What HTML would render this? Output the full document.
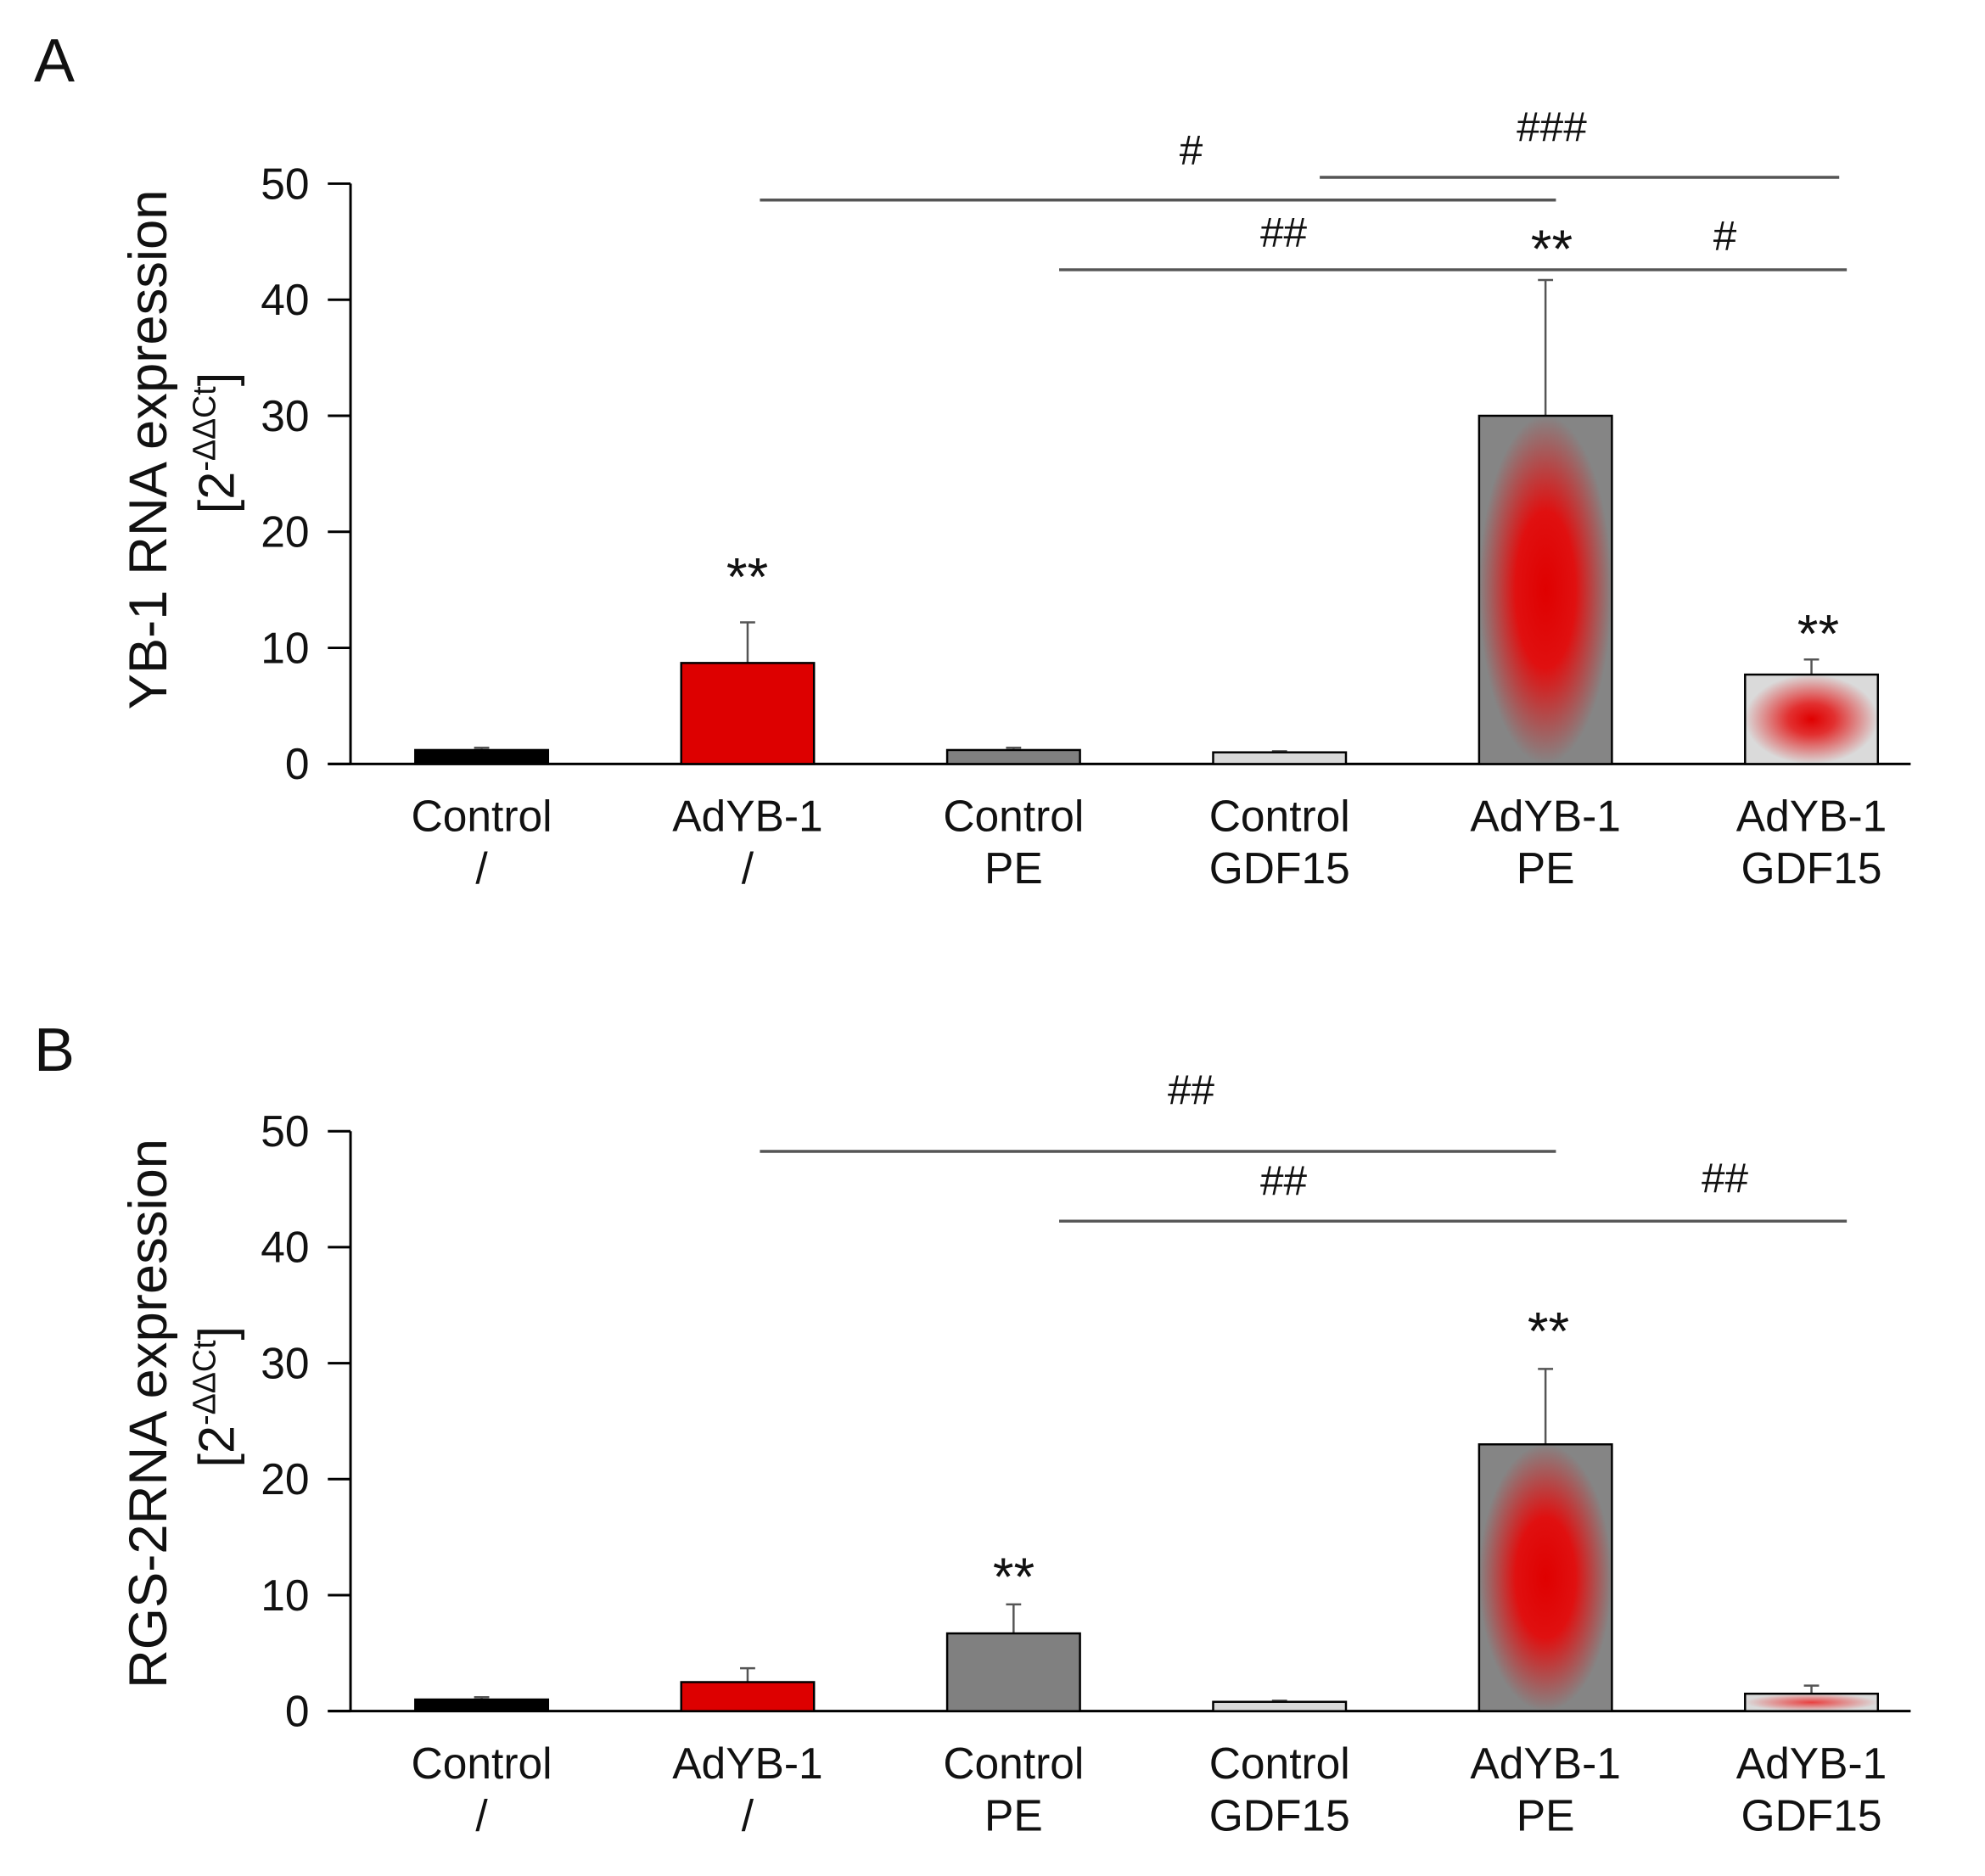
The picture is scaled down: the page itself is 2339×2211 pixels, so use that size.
<!DOCTYPE html>
<html><head><meta charset="utf-8"><style>
html,body{margin:0;padding:0;background:#fff}
svg{display:block}
text{font-family:"Liberation Sans",sans-serif;fill:#111}
.n{font-family:"Liberation Sans Narrow","Liberation Sans",sans-serif}
</style></head><body>
<svg id="fig" xmlns="http://www.w3.org/2000/svg" width="2339" height="2211" viewBox="0 0 2339 2211">
<defs>
<radialGradient id="gradGray" cx="50%" cy="50%" r="50%">
<stop offset="0" stop-color="#e00000"/><stop offset="0.45" stop-color="#e01010"/><stop offset="1" stop-color="#858585"/>
</radialGradient>
<radialGradient id="gradLight" cx="50%" cy="50%" r="50%">
<stop offset="0" stop-color="#e00000"/><stop offset="0.35" stop-color="#e23030"/><stop offset="1" stop-color="#dadada"/>
</radialGradient>
<radialGradient id="gradLightB" cx="50%" cy="50%" r="50%">
<stop offset="0" stop-color="#e84040"/><stop offset="1" stop-color="#dadada"/>
</radialGradient>
</defs>
<text x="40" y="96" font-size="72">A</text>
<text x="40" y="1262" font-size="72">B</text>
<g transform="scale(0.9905)">
<g id="pa"></g>
<g id="pb"></g>
</g>
</svg>
<script>
const categoriesTop = ["Control","AdYB-1","Control","Control","AdYB-1","AdYB-1"];
const categoriesBottom = ["/","/","PE","GDF15","PE","GDF15"];
const valuesA = [1.2, 8.7, 1.2, 1.0, 30, 7.7];
const errorsA = [1.4, 12.2, 1.4, 1.1, 41.7, 9.0];
const valuesB = [1.0, 2.5, 6.7, 0.8, 23, 1.5];
const errorsB = [1.2, 3.7, 9.2, 0.9, 29.5, 2.2];
const ticks = [0,10,20,30,40,50];
const fillsA = ["#000000","#dd0000","#808080","#d9d9d9","url(#gradGray)","url(#gradLight)"];
const fillsB = ["#000000","#dd0000","#808080","#d9d9d9","url(#gradGray)","url(#gradLightB)"];
const NS="http://www.w3.org/2000/svg";
function mk(parent,tag,attrs,txt){const e=document.createElementNS(NS,tag);for(const k in attrs)e.setAttribute(k,attrs[k]);if(txt!==undefined)e.textContent=txt;parent.appendChild(e);return e;}
function panel(gid,y0,y50,vals,errs,fills,title,tc,uc){
  const g=document.getElementById(gid);
  const X0=417,XE=2273,step=316.4,first=573,bw=158;
  const ys=v=>y0-(v/50)*(y0-y50);
  const xs=i=>first+i*step;
  let ax=mk(g,'line',{x1:X0,y1:y50,x2:X0,y2:y0,stroke:'#000','stroke-width':3});
  
  
  ax=mk(g,'line',{x1:X0-27,y1:y0,x2:XE,y2:y0,stroke:'#000','stroke-width':3});
  
  
  ticks.forEach(t=>{
    const tl=mk(g,'line',{x1:X0-27,y1:ys(t),x2:X0,y2:ys(t),stroke:'#000','stroke-width':3});
    
    
    const tx=mk(g,'text',{x:368,y:ys(t)+18,'font-size':52,'text-anchor':'end',class:'n'},String(t));
    
    
  });
  vals.forEach((v,i)=>{
    const cx=xs(i);
    const el=mk(g,'line',{x1:cx,y1:ys(errs[i]),x2:cx,y2:ys(v),stroke:'#555','stroke-width':2.5});
    
    
    const cap=mk(g,'line',{x1:cx-9,y1:ys(errs[i]),x2:cx+9,y2:ys(errs[i]),stroke:'#555','stroke-width':2.5});
    
    
    const r=mk(g,'rect',{x:cx-bw/2,y:ys(v),width:bw,height:y0-ys(v),fill:fills[i],stroke:'#000','stroke-width':2.5});
    
    
    const l1=mk(g,'text',{x:cx,y:y0+80,'font-size':52,'text-anchor':'middle',class:'n'},categoriesTop[i]);
    
    
    const l2=mk(g,'text',{x:cx,y:y0+142,'font-size':52,'text-anchor':'middle',class:'n'},categoriesBottom[i]);
    
    
  });
  const t=mk(g,'text',{transform:`translate(198,${tc}) rotate(-90)`,'font-size':64,'text-anchor':'middle'},title);
  
  
  const t2=mk(g,'text',{transform:`translate(278,${uc}) rotate(-90)`,'font-size':60,'text-anchor':'middle'});
  
  
  t2.innerHTML='[2<tspan font-size="38" dy="-22">-ΔΔCt</tspan><tspan dy="22">]</tspan>';
  return {ys,xs,g};
}
function sig(g,x1,x2,y,label,lx,ly){
  if(x2>x1){const l=mk(g,'line',{x1:x1,y1:y,x2:x2,y2:y,stroke:'#555','stroke-width':3.5});
  
  }
  if(label){const t=mk(g,'text',{x:lx,y:ly,'font-size':50,'text-anchor':'middle',class:'n'},label);
  
  }
}
function star(g,x,y){const t=mk(g,'text',{x:x,y:y,'font-size':64,'text-anchor':'middle'},'**');
  
  }
const A=panel('pa',909,218.5,valuesA,errorsA,fillsA,'YB-1 RNA expression',535,527);
sig(A.g,904,1851,238,'#',1417,196);
sig(A.g,1570,2188,211,'###',1846,168);
sig(A.g,1260,2197,321,'##',1527,294);
sig(A.g,0,0,0,'#',2052,298);
star(A.g,1846,318);star(A.g,889,708);star(A.g,2163,776);
const B=panel('pb',2036,1346,valuesB,errorsB,fillsB,'RGS-2RNA expression',1682,1662);
sig(B.g,904,1851,1370,'##',1417,1314);
sig(B.g,1260,2197,1453,'##',1527,1422);
sig(B.g,0,0,0,'##',2052,1419);
star(B.g,1842,1606);star(B.g,1206,1898);
</script>
</body></html>
